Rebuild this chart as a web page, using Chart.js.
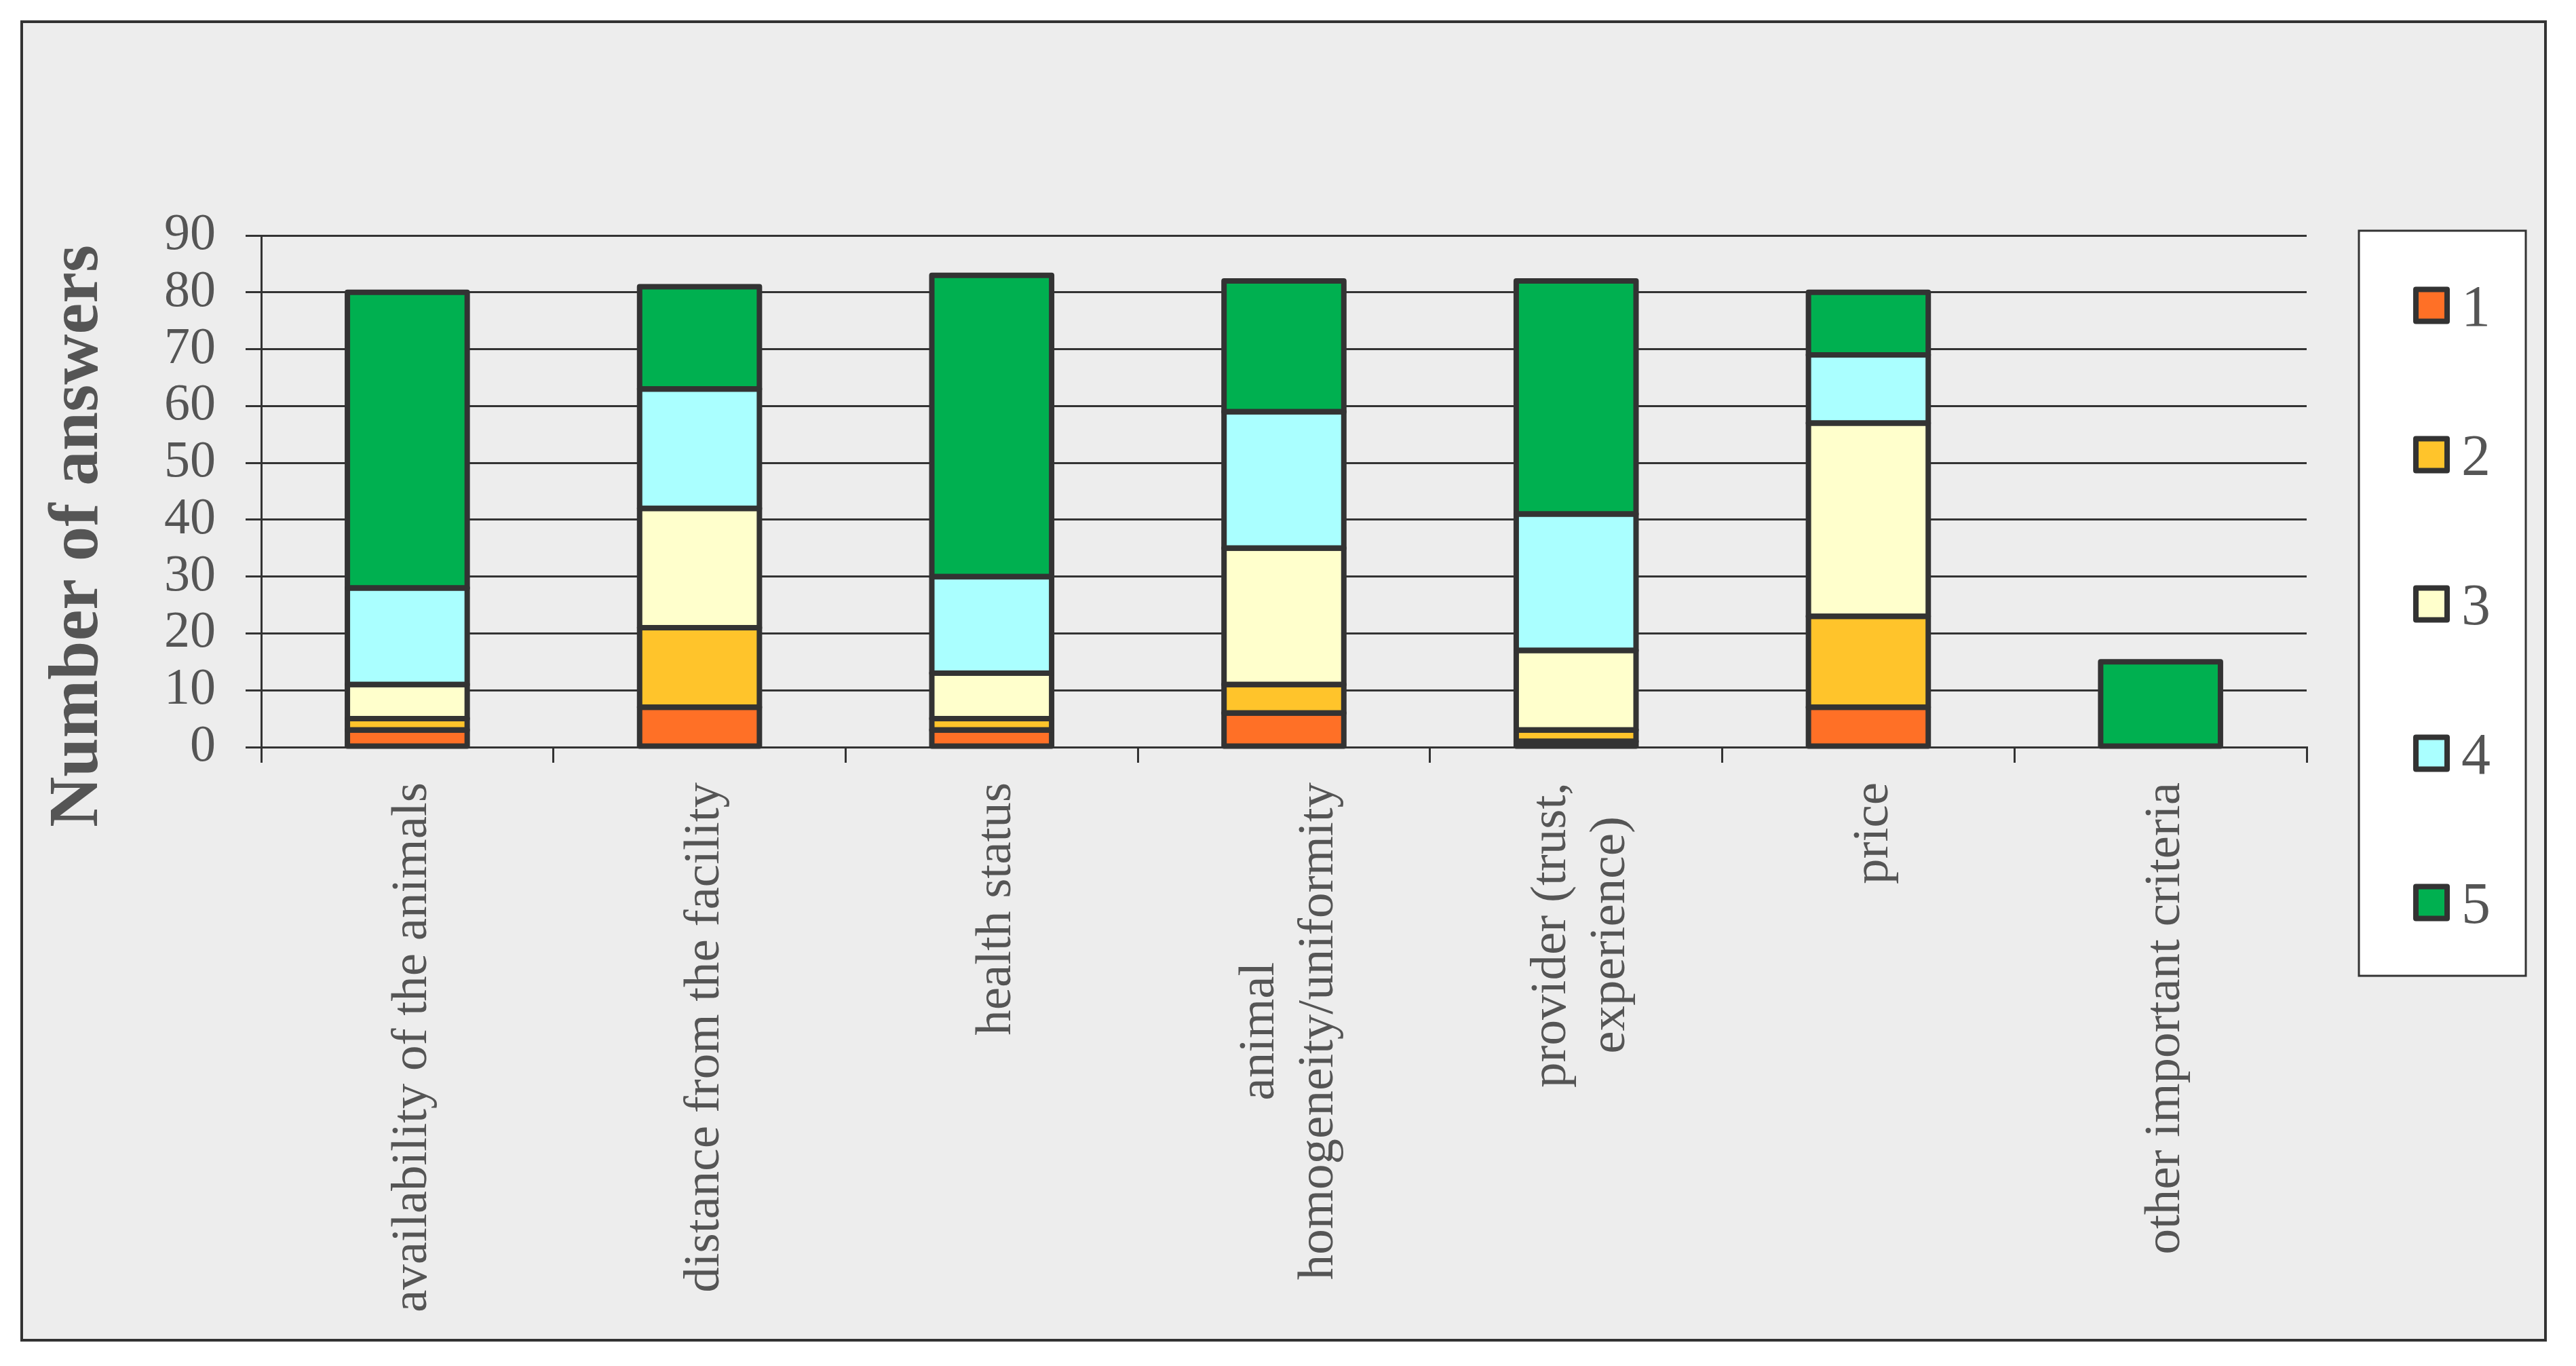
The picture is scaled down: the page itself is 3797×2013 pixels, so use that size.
<!DOCTYPE html>
<html>
<head>
<meta charset="utf-8">
<script src="https://cdn.jsdelivr.net/npm/chart.js@4/dist/chart.umd.min.js"></script>
<style>
  html, body { margin: 0; padding: 0; background: #ffffff; }
  #wrap { width: 3797px; height: 2013px; }
</style>
</head>
<body>
<div id="wrap"><canvas id="myChart"></canvas></div>
<script>
// categories and answers per score (1 = least important ... 5 = most important)
const categories = [
    'availability of the animals',
    'distance from the facility',
    'health status',
    ['animal', 'homogeneity/uniformity'],
    ['provider (trust,', 'experience)'],
    'price',
    'other important criteria'
];
const score1 = [3, 7, 3, 6, 1, 7, 0];
const score2 = [2, 14, 2, 5, 2, 16, 0];
const score3 = [6, 21, 8, 24, 14, 34, 0];
const score4 = [17, 21, 17, 24, 24, 12, 0];
const score5 = [52, 18, 53, 23, 41, 11, 15];
const scoreLabels = ['1', '2', '3', '4', '5'];
const scoreColors = ['#FF7026', '#FFC42B', '#FFFFCC', '#AAFFFF', '#00B050'];
const yMin = 0;
const yMax = 90;
const yStep = 10;

const serif = '"Liberation Serif", "Times New Roman", serif';
const textColor = '#555555';
const lineColor = '#333333';

// grey panel with dark frame behind everything
const framePlugin = {
    id: 'frame',
    beforeDraw(chart) {
        const c = chart.ctx;
        c.save();
        c.fillStyle = '#ffffff';
        c.fillRect(0, 0, chart.width, chart.height);
        c.fillStyle = '#EDEDED';
        c.fillRect(32, 32, 3720, 1943);
        c.lineWidth = 4;
        c.strokeStyle = lineColor;
        c.strokeRect(32, 32, 3720, 1943);
        c.restore();
    }
};

// outline every stacked segment (excel style, stroke centred on the edges)
const outlinePlugin = {
    id: 'outline',
    afterDatasetsDraw(chart) {
        const c = chart.ctx;
        c.save();
        c.lineWidth = 8;
        c.strokeStyle = lineColor;
        c.lineJoin = 'round';
        chart.data.datasets.forEach((ds, i) => {
            const meta = chart.getDatasetMeta(i);
            meta.data.forEach((bar, j) => {
                if (!ds.data[j]) return;
                const p = bar.getProps(['x', 'y', 'base', 'width'], true);
                c.strokeRect(p.x - p.width / 2, p.y, p.width, p.base - p.y);
            });
        });
        c.restore();
    }
};

// rotated category labels (lines centred), y title and the legend box
const textPlugin = {
    id: 'texts',
    afterDraw(chart) {
        const c = chart.ctx;
        const xScale = chart.scales.x;
        const area = chart.chartArea;
        c.save();
        c.fillStyle = textColor;
        c.font = '75px ' + serif;
        c.textAlign = 'center';
        c.textBaseline = 'middle';
        chart.data.labels.forEach((lab, i) => {
            const lines = Array.isArray(lab) ? lab : [lab];
            const w = Math.max(...lines.map(l => c.measureText(l).width));
            c.save();
            c.translate(xScale.getPixelForTick(i) + 8, xScale.top + 52);
            c.rotate(-Math.PI / 2);
            lines.forEach((l, k) => {
                c.fillText(l, -w / 2, (k - (lines.length - 1) / 2) * 87);
            });
            c.restore();
        });

        // y axis title
        c.save();
        c.font = 'bold 103px ' + serif;
        c.textBaseline = 'alphabetic';
        c.translate(143, (area.top + area.bottom) / 2 + 66);
        c.rotate(-Math.PI / 2);
        c.fillText('Number of answers', 0, 0);
        c.restore();

        // legend
        c.fillStyle = '#ffffff';
        c.fillRect(3477, 340, 246, 1098);
        c.lineWidth = 3;
        c.strokeStyle = lineColor;
        c.strokeRect(3477, 340, 246, 1098);
        c.font = '86px ' + serif;
        c.textAlign = 'left';
        c.textBaseline = 'alphabetic';
        c.lineJoin = 'round';
        chart.data.datasets.forEach((ds, i) => {
            const cy = 450 + i * 220;
            c.fillStyle = ds.backgroundColor;
            c.fillRect(3561, cy - 23.5, 46, 47);
            c.lineWidth = 8;
            c.strokeRect(3561, cy - 23.5, 46, 47);
            c.fillStyle = textColor;
            c.fillText(ds.label, 3628, cy + 30);
        });
        c.restore();
    }
};

const seriesValues = [score1, score2, score3, score4, score5];

var ctx = document.getElementById('myChart').getContext('2d');
var chart = new Chart(ctx, {
    type: 'bar',
    data: {
        labels: categories,
        datasets: seriesValues.map((vals, i) => ({
            label: scoreLabels[i],
            data: vals,
            backgroundColor: scoreColors[i],
            borderWidth: 0,
            barPercentage: 0.41,
            categoryPercentage: 1
        }))
    },
    options: {
        responsive: true,
        maintainAspectRatio: false,
        devicePixelRatio: 1,
        animation: false,
        layout: {
            padding: { left: 0, top: 347, right: 397, bottom: 0 }
        },
        plugins: {
            legend: { display: false },
            tooltip: { enabled: false }
        },
        scales: {
            x: {
                stacked: true,
                offset: true,
                grid: {
                    offset: true,
                    drawOnChartArea: false,
                    drawTicks: true,
                    tickLength: 23,
                    color: lineColor,
                    lineWidth: 3
                },
                border: { display: true, color: lineColor, width: 3 },
                ticks: { display: false },
                afterFit(scale) { scale.height = 912; }
            },
            y: {
                stacked: true,
                min: yMin,
                max: yMax,
                ticks: {
                    stepSize: yStep,
                    autoSkip: false,
                    padding: 44,
                    color: textColor,
                    font: { family: serif, size: 76 }
                },
                grid: {
                    color: lineColor,
                    lineWidth: 3,
                    tickLength: 23
                },
                border: { display: true, color: lineColor, width: 3 },
                afterFit(scale) { scale.width = 385; }
            }
        }
    },
    plugins: [framePlugin, outlinePlugin, textPlugin]
});
</script>
</body>
</html>
